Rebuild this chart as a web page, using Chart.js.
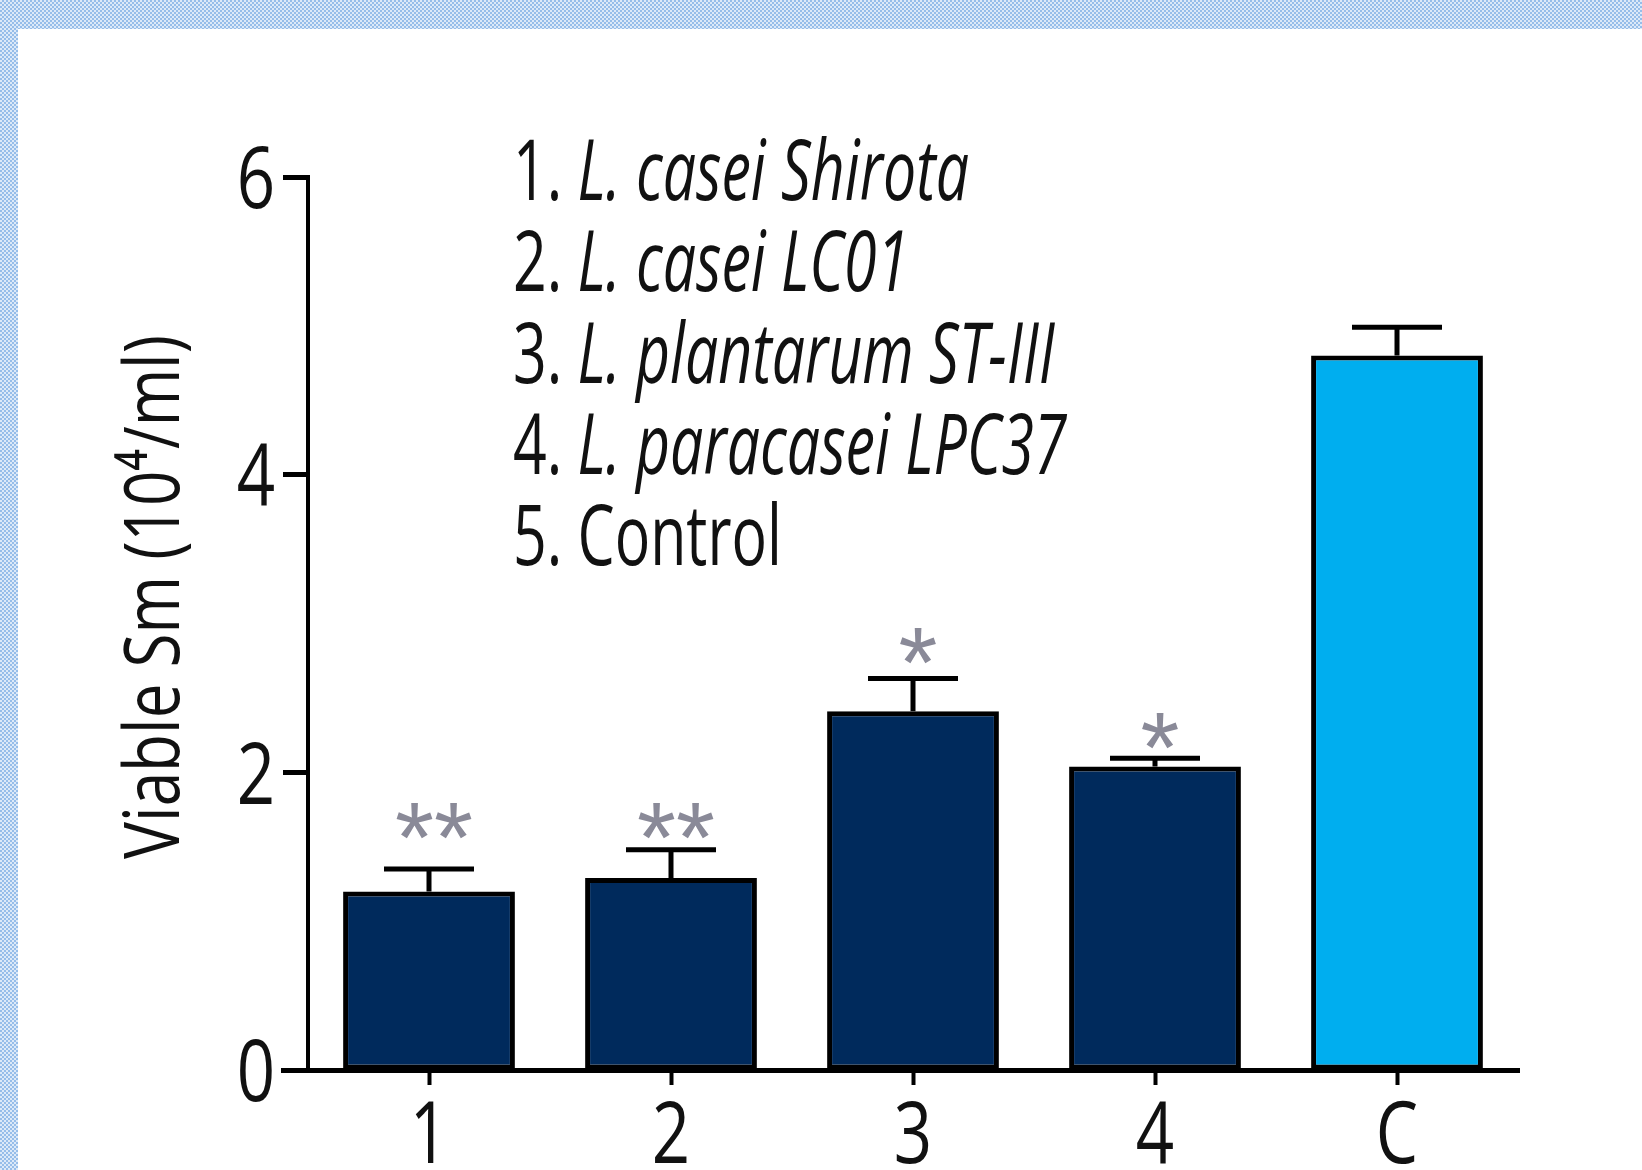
<!DOCTYPE html>
<html>
<head>
<meta charset="utf-8">
<script src="https://cdn.jsdelivr.net/npm/chart.js@4.4.1/dist/chart.umd.min.js"></script>
<style>
  html, body { margin: 0; padding: 0; }
  body {
    width: 1642px; height: 1170px; overflow: hidden; position: relative;
    background: repeating-conic-gradient(#96bde9 0% 25%, #dce9f8 0% 50%) 0 0 / 4px 4px;
  }
  #panel { position: absolute; left: 18px; top: 29px; right: 0; bottom: 0; background: #fff; }
  #chart { position: absolute; left: 0; top: 0; }
</style>
</head>
<body>
<div id="panel"></div>
<canvas id="chart" width="1642" height="1170"></canvas>
<script>
// values
const categories = ['1', '2', '3', '4', 'C'];
const means = [1.2, 1.29, 2.41, 2.04, 4.8];
const errors = [0.15, 0.19, 0.22, 0.055, 0.19];
const marks = ['**', '**', '*', '*', ''];
const markLevels = [1.67, 1.67, 2.85, 2.28, null];
const barColors = ['#002a5c', '#002a5c', '#002a5c', '#002a5c', '#00aeef'];
const yTicks = [0, 2, 4, 6];
const legendLines = [
  ['1. ', 'L. casei Shirota'],
  ['2. ', 'L. casei LC01'],
  ['3. ', 'L. plantarum ST-III'],
  ['4. ', 'L. paracasei LPC37'],
  ['5. Control', '']
];
const yTitle = 'Viable Sm (10\u2074/ml)';

const FONT = "'Open Sans', 'Liberation Sans', sans-serif";
const TEXT = '#111';

// text squeezed sideways, the figure uses a condensed face
function squeezed(ctx, str, x, y, sx, align) {
  const w = ctx.measureText(str).width * sx;
  const left = align === 'right' ? x - w : align === 'center' ? x - w / 2 : x;
  ctx.save();
  ctx.translate(left, y);
  ctx.scale(sx, 1);
  ctx.textAlign = 'left';
  ctx.fillText(str, 0, 0);
  ctx.restore();
  return w;
}

const extras = {
  id: 'extras',
  afterDatasetsDraw(chart) {
    const ctx = chart.ctx;
    const x = chart.scales.x, y = chart.scales.y;
    const area = chart.chartArea;
    const meta = chart.getDatasetMeta(0);
    const y0 = y.getPixelForValue(0);

    ctx.save();
    ctx.strokeStyle = '#000';
    ctx.lineWidth = 5;
    // error bars
    meta.data.forEach((bar, i) => {
      const top = y.getPixelForValue(means[i] + errors[i]);
      ctx.beginPath();
      ctx.moveTo(bar.x, bar.y);
      ctx.lineTo(bar.x, top);
      ctx.moveTo(bar.x - 45, top);
      ctx.lineTo(bar.x + 45, top);
      ctx.stroke();
    });
    // x axis line, reaching a bit left of the y axis
    ctx.beginPath();
    ctx.moveTo(area.left - 27, y0 + 0.5);
    ctx.lineTo(area.right + 2, y0 + 0.5);
    ctx.stroke();

    // asterisks
    ctx.fillStyle = '#8a8a98';
    ctx.font = "100px 'Liberation Sans', sans-serif";
    ctx.textAlign = 'center';
    ctx.textBaseline = 'alphabetic';
    meta.data.forEach((bar, i) => {
      if (!marks[i]) return;
      const m = ctx.measureText(marks[i]);
      const cy = y.getPixelForValue(markLevels[i]);
      ctx.fillText(marks[i], bar.x + 5, cy + (m.actualBoundingBoxAscent - m.actualBoundingBoxDescent) / 2);
    });

    ctx.fillStyle = TEXT;
    ctx.textBaseline = 'alphabetic';

    // tick labels
    ctx.font = '86px ' + FONT;
    y.ticks.forEach(t => {
      const s = String(t.value);
      const m = ctx.measureText(s);
      const py = y.getPixelForValue(t.value);
      squeezed(ctx, s, area.left - 33, py + (m.actualBoundingBoxAscent - m.actualBoundingBoxDescent) / 2, 0.78, 'right');
    });
    categories.forEach((c, i) => {
      squeezed(ctx, c, x.getPixelForTick(i), y0 + 93, 0.78, 'center');
    });

    // legend text block
    ctx.font = '84px ' + FONT;
    ctx.font = '84px ' + FONT;
    const w0 = ctx.measureText(legendLines[0][0]).width;
    ctx.font = 'italic 84px ' + FONT;
    const sx = 456 / (w0 + ctx.measureText(legendLines[0][1]).width);
    legendLines.forEach((ln, i) => {
      const by = 200 + i * 91.25;
      ctx.font = '84px ' + FONT;
      const w = squeezed(ctx, ln[0], 513, by, sx, 'left');
      ctx.font = 'italic 84px ' + FONT;
      squeezed(ctx, ln[1], 513 + w, by, sx, 'left');
    });

    // y axis title
    ctx.save();
    ctx.translate(157, 597);
    ctx.rotate(-Math.PI / 2);
    ctx.font = '76px ' + FONT;
    ctx.textBaseline = 'middle';
    const tw = ctx.measureText(yTitle).width;
    squeezed(ctx, yTitle, 0, 0, 524 / tw, 'center');
    ctx.restore();

    ctx.restore();
  }
};

new Chart(document.getElementById('chart'), {
  type: 'bar',
  data: {
    labels: categories,
    datasets: [{
      data: means,
      backgroundColor: barColors,
      borderColor: '#000',
      borderWidth: 5,
      borderSkipped: false,
      barPercentage: 0.71,
      categoryPercentage: 1
    }]
  },
  options: {
    responsive: false,
    animation: false,
    devicePixelRatio: 1,
    layout: { padding: { left: 0, right: 124, top: 177, bottom: 0 } },
    plugins: { legend: { display: false }, tooltip: { enabled: false } },
    scales: {
      x: {
        offset: true,
        border: { display: false },
        grid: { drawOnChartArea: false, offset: false, tickLength: 15, tickWidth: 4, color: '#000' },
        ticks: { display: false },
        afterFit(s) { s.height = 100; }
      },
      y: {
        min: 0,
        max: 6,
        afterBuildTicks(s) { s.ticks = yTicks.map(v => ({ value: v })); },
        border: { display: true, color: '#000', width: 4 },
        grid: { drawOnChartArea: false, tickLength: 25, tickWidth: 5, color: '#000' },
        ticks: { display: false },
        afterFit(s) { s.width = 308; }
      }
    }
  },
  plugins: [extras]
});
</script>
</body>
</html>
